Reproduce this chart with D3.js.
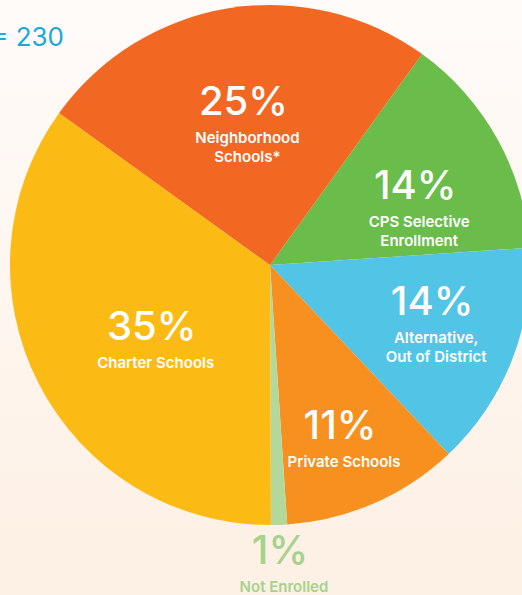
<!DOCTYPE html>
<html>
<head>
<meta charset="utf-8">
<script src="https://cdn.jsdelivr.net/npm/d3@7"></script>
<style>
  html, body { margin: 0; padding: 0; }
  body { width: 522px; height: 595px; overflow: hidden; }
  svg { display: block; font-family: "Inter", "Lato", sans-serif; }
</style>
</head>
<body>
<svg id="mySvg"></svg>
<script>
// chart data
var categories = ["CPS Selective Enrollment", "Alternative, Out of District", "Private Schools", "Not Enrolled", "Charter Schools", "Neighborhood Schools*"];
var labelLines = [["CPS Selective", "Enrollment"], ["Alternative,", "Out of District"], ["Private Schools"], ["Not Enrolled"], ["Charter Schools"], ["Neighborhood", "Schools*"]];
var percents = [14, 14, 11, 1, 35, 25];
var sliceColors = ["#6abd4b", "#52c5e6", "#f7901e", "#b3d89c", "#fcbb14", "#f26722"];
var totalLabel = "n = 230";

var svgWidth = 522;
var svgHeight = 595;
var cx = 270, cy = 265, radius = 260;

var svg = d3.select("#mySvg")
  .attr("width", svgWidth)
  .attr("height", svgHeight);

var defs = svg.append("defs");
var grad = defs.append("linearGradient").attr("id", "bg").attr("x1", 0).attr("y1", 0).attr("x2", 0).attr("y2", 1);
grad.append("stop").attr("offset", "0%").attr("stop-color", "#fffbf9");
grad.append("stop").attr("offset", "100%").attr("stop-color", "#fdf0e4");

svg.append("rect").attr("width", svgWidth).attr("height", svgHeight).attr("fill", "url(#bg)");

svg.append("text")
  .attr("x", 64).attr("y", 46)
  .attr("text-anchor", "end")
  .attr("fill", "#1aa9da")
  .attr("font-size", 26)
  .attr("font-weight", 400)
  .text(totalLabel);

var data = categories.map(function(c, i) {
  return { name: c, lines: labelLines[i], value: percents[i], color: sliceColors[i] };
});

var pie = d3.pie()
  .sort(null)
  .value(function(d) { return d.value; })
  .startAngle(35.8 * Math.PI / 180)
  .endAngle(35.8 * Math.PI / 180 + 2 * Math.PI);

var arc = d3.arc().innerRadius(0).outerRadius(radius);

var g = svg.append("g").attr("transform", "translate(" + cx + "," + cy + ")");

g.selectAll("path")
  .data(pie(data))
  .enter()
  .append("path")
  .attr("d", arc)
  .attr("fill", function(d) { return d.data.color; });

// label placement tweaks (layout only)
var labelRadius = { "Charter Schools": 133, "Not Enrolled": 285, "Private Schools": 175 };
var angleShift = { "Alternative, Out of District": -9 };

var labels = g.selectAll("g.lbl")
  .data(pie(data))
  .enter()
  .append("g")
  .attr("class", "lbl")
  .attr("transform", function(d) {
    var r = labelRadius[d.data.name] || 166;
    var a = (d.startAngle + d.endAngle) / 2 + (angleShift[d.data.name] || 0) * Math.PI / 180;
    return "translate(" + (r * Math.sin(a)) + "," + (-r * Math.cos(a)) + ")";
  });

labels.append("text")
  .attr("text-anchor", "middle")
  .attr("y", 14)
  .attr("font-size", 40)
  .attr("font-weight", 500)
  .attr("fill", function(d) { return d.data.name === "Not Enrolled" ? "#a6d28c" : "#fff"; })
  .text(function(d) { return d.data.value + "%"; });

labels.each(function(d) {
  var sel = d3.select(this);
  d.data.lines.forEach(function(line, i) {
    sel.append("text")
      .attr("text-anchor", "middle")
      .attr("x", 4)
      .attr("y", 42 + i * 19)
      .attr("font-size", 15)
      .attr("font-weight", 600)
      .attr("fill", d.data.name === "Not Enrolled" ? "#a6d28c" : "#fff")
      .text(line);
  });
});
</script>
</body>
</html>
